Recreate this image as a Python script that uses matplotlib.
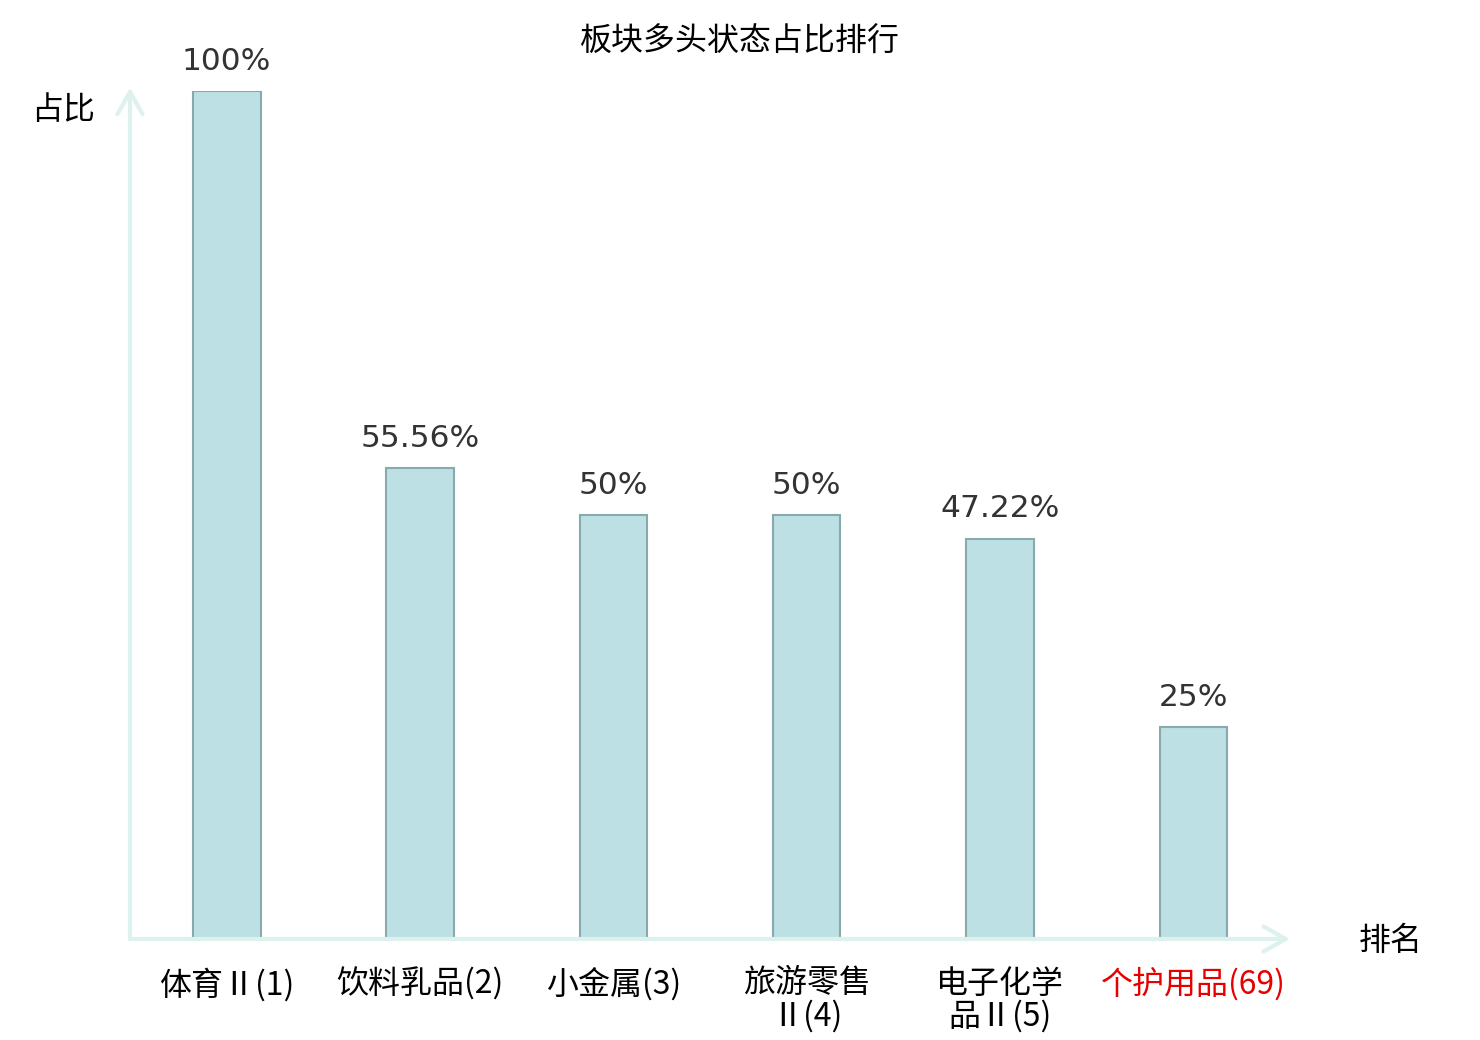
import matplotlib
matplotlib.use('Agg')
import matplotlib.pyplot as plt

names = ['体育Ⅱ', '饮料乳品', '小金属', '旅游零售Ⅱ', '电子化学品Ⅱ', '个护用品']
ranks = [1, 2, 3, 4, 5, 69]
values = [100, 55.56, 50, 50, 47.22, 25]
value_labels = ['100%', '55.56%', '50%', '50%', '47.22%', '25%']
label_colors = ['black', 'black', 'black', 'black', 'black', '#e60000']

title = '板块多头状态占比排行'
ylabel = '占比'
xlabel = '排名'

FAM = ['Noto Sans CJK SC', 'DejaVu Sans']
plt.rcParams['font.family'] = FAM

fig = plt.figure(figsize=(14.8, 10.4), dpi=100)
ax = fig.add_axes([130/1480, 1-939/1040, 1160/1480, 848/1040])

x = list(range(len(values)))
bars = ax.bar(x, values, width=0.35, color='#bce0e3', edgecolor='#8aa9ac', linewidth=1.5, zorder=3)
ax.set_xlim(-0.5, len(values) - 0.5)
ax.set_ylim(0, 100)

for s in ax.spines.values():
    s.set_visible(False)
ax.set_xticks([])
ax.set_yticks([])

axis_color = '#ddf1ee'
ax.annotate('', xy=(0, 1.004), xytext=(0, 0), xycoords='axes fraction',
            arrowprops=dict(arrowstyle='->,head_length=0.8,head_width=0.45', color=axis_color,
                            lw=3, mutation_scale=20, shrinkA=0, shrinkB=0), annotation_clip=False)
ax.annotate('', xy=(1.0, 0), xytext=(0, 0), xycoords='axes fraction',
            arrowprops=dict(arrowstyle='->,head_length=0.8,head_width=0.45', color=axis_color,
                            lw=3, mutation_scale=20, shrinkA=0, shrinkB=0), annotation_clip=False)

for xi, v, lab in zip(x, values, value_labels):
    ax.annotate(lab, xy=(xi, v), xytext=(0, 11), textcoords='offset points',
                ha='center', va='bottom', fontsize=22.5, color='#333333',
                family='DejaVu Sans', annotation_clip=False)

for xi, n, r, c in zip(x, names, ranks, label_colors):
    if len(n) > 4:
        lab = n[:4] + '\n' + n[4:] + f'({r})'
    else:
        lab = n + f'({r})'
    ax.annotate(lab, xy=(xi, 0), xytext=(0, -20.5), textcoords='offset points',
                ha='center', va='top', fontsize=23, color=c, family=FAM,
                fontweight='light', linespacing=1.02, annotation_clip=False)

fig.text(740/1480, 1-42/1040, title, ha='center', va='center', fontsize=23, color='black', fontweight='light')
fig.text(63/1480, 1-110/1040, ylabel, ha='center', va='center', fontsize=23, color='black', fontweight='light')
fig.text(1391/1480, 1-941/1040, xlabel, ha='center', va='center', fontsize=23, color='black', fontweight='light')

fig.savefig('out.png', dpi=100, facecolor='white')
